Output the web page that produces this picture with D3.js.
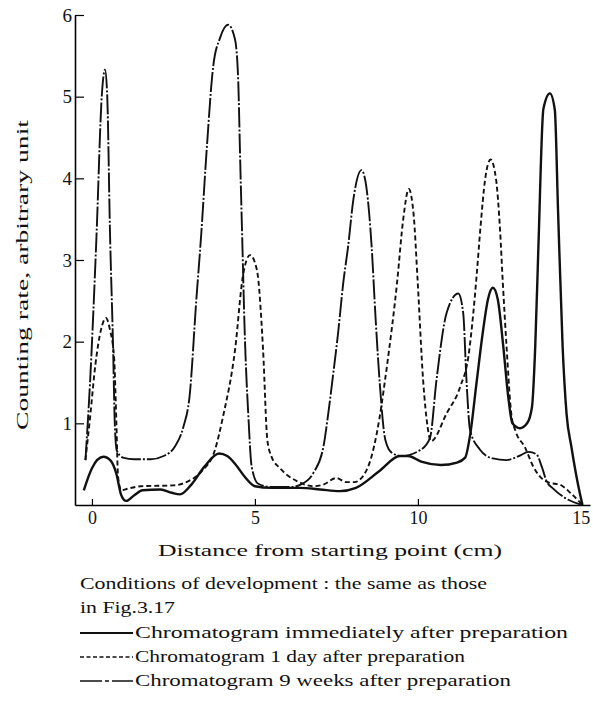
<!DOCTYPE html>
<html>
<head>
<meta charset="utf-8">
<script src="https://cdn.jsdelivr.net/npm/d3@7"></script>
<style>
  body { margin: 0; background: #fff; }
  svg text { font-family: "Liberation Serif", "DejaVu Serif", serif; fill: #111; }
</style>
</head>
<body>
<svg id="chart" width="593" height="702"></svg>
<script>
// tick values
const xTicks = [0, 5, 10, 15];
const yTicks = [1, 2, 3, 4, 5, 6];

// Chromatogram immediately after preparation (solid)
const immediate = [
  [-0.25, 0.18], [0.0, 0.45], [0.35, 0.59], [0.58, 0.54], [0.75, 0.38], [0.9, 0.12],
  [1.05, 0.05], [1.3, 0.12], [1.55, 0.18], [2.1, 0.19], [2.45, 0.15], [2.7, 0.13],
  [3.05, 0.25], [3.45, 0.47], [3.9, 0.63], [4.15, 0.6], [4.4, 0.5], [4.7, 0.34],
  [5.0, 0.23], [5.5, 0.21], [6.4, 0.21], [7.0, 0.19], [7.6, 0.17], [8.1, 0.21],
  [8.8, 0.41], [9.45, 0.6], [9.7, 0.6], [10.1, 0.53], [10.7, 0.49], [11.2, 0.52],
  [11.45, 0.58], [11.6, 0.85], [11.8, 1.5], [12.0, 2.14], [12.15, 2.52], [12.3, 2.66],
  [12.45, 2.52], [12.62, 1.94], [12.77, 1.33], [12.9, 1.0], [13.13, 0.94], [13.35, 1.0],
  [13.5, 1.2], [13.6, 1.94], [13.7, 3.2], [13.85, 4.85], [14.05, 5.04], [14.2, 4.84],
  [14.3, 3.6], [14.44, 1.94], [14.56, 1.12], [14.71, 0.71], [14.97, 0.14], [15.05, 0]
];

// Chromatogram 1 day after preparation (dashed)
const oneDay = [
  [-0.2, 0.55], [-0.05, 1.1], [0.1, 1.7], [0.28, 2.15], [0.43, 2.29], [0.55, 2.15],
  [0.68, 1.8], [0.75, 1.0], [0.8, 0.35], [0.9, 0.18], [1.1, 0.2], [1.5, 0.23],
  [2.5, 0.24], [2.95, 0.29], [3.36, 0.41], [3.77, 0.67], [4.02, 1.08], [4.39, 1.9],
  [4.63, 2.8], [4.85, 3.06], [5.06, 2.88], [5.25, 1.9], [5.38, 0.8], [5.5, 0.6],
  [5.77, 0.45], [6.3, 0.29], [6.8, 0.23], [7.1, 0.25], [7.5, 0.33], [7.8, 0.28],
  [8.05, 0.28], [8.43, 0.43], [8.74, 0.88], [9.05, 1.7], [9.36, 2.72], [9.55, 3.5],
  [9.72, 3.87], [9.87, 3.55], [9.99, 2.76], [10.16, 1.53], [10.3, 0.95], [10.4, 0.78],
  [10.88, 1.12], [11.3, 1.45], [11.55, 1.82], [11.7, 2.35], [11.8, 2.8], [11.92, 3.4],
  [12.06, 3.98], [12.23, 4.23], [12.4, 3.98], [12.52, 3.37], [12.6, 2.76], [12.72, 1.94],
  [12.87, 1.1], [13.0, 0.9], [13.28, 0.71], [13.54, 0.47], [13.74, 0.35], [14.05, 0.27],
  [14.35, 0.25], [14.7, 0.14], [15.05, 0]
];

// Chromatogram 9 weeks after preparation (dash-dot)
const nineWeeks = [
  [-0.2, 0.55], [-0.06, 1.49], [0.14, 3.3], [0.3, 5.0], [0.4, 5.33], [0.47, 5.0],
  [0.55, 3.4], [0.65, 1.9], [0.7, 1.0], [0.76, 0.67], [0.95, 0.58], [1.3, 0.56],
  [1.8, 0.56], [2.2, 0.6], [2.55, 0.72], [2.8, 0.95], [3.0, 1.35], [3.2, 2.5],
  [3.35, 3.3], [3.52, 4.35], [3.72, 5.37], [3.93, 5.72], [4.18, 5.88], [4.39, 5.7],
  [4.49, 5.17], [4.54, 4.35], [4.62, 3.12], [4.68, 2.2], [4.8, 1.08], [4.9, 0.47],
  [5.1, 0.26], [5.5, 0.22], [6.1, 0.22], [6.4, 0.25], [6.79, 0.39], [7.1, 0.71],
  [7.25, 1.12], [7.4, 1.6], [7.55, 2.1], [7.71, 2.72], [7.86, 3.17], [8.02, 3.74],
  [8.27, 4.1], [8.43, 3.86], [8.58, 3.17], [8.7, 2.3], [8.83, 1.49], [9.0, 0.8],
  [9.2, 0.64], [9.5, 0.6], [10.06, 0.67], [10.37, 0.82], [10.57, 1.53], [10.88, 2.35],
  [11.24, 2.59], [11.39, 2.35], [11.49, 1.53], [11.6, 0.92], [11.9, 0.68], [12.3, 0.57],
  [12.72, 0.55], [13.1, 0.6], [13.4, 0.65], [13.64, 0.62], [13.8, 0.47], [13.95, 0.29],
  [14.15, 0.2], [14.5, 0.09], [15.05, 0]
];

const series = [
  { name: 'Chromatogram immediately after preparation', data: immediate, dash: null, legendDash: null, width: 2.4 },
  { name: 'Chromatogram 1 day after preparation', data: oneDay, dash: '5,3', legendDash: '4,2.5', width: 1.9 },
  { name: 'Chromatogram 9 weeks after preparation', data: nineWeeks, dash: '20,2,2,2', legendDash: '22,3,4,3', width: 1.9 }
];

const svg = d3.select('#chart');

const x = d3.scaleLinear().domain([-0.52, 15.28]).range([75, 590]);
const y = d3.scaleLinear().domain([0, 6]).range([505, 15]);

// axes (ticks point inward)
svg.append('g')
  .attr('transform', 'translate(0,505)')
  .call(d3.axisBottom(x).tickValues(xTicks).tickSize(-6).tickSizeOuter(0).tickPadding(6))
  .call(g => g.select('.domain').attr('stroke-width', 1.6))
  .call(g => g.selectAll('.tick line').attr('stroke-width', 1.2))
  .call(g => g.selectAll('text').attr('font-size', 18).attr('font-family', '"Liberation Serif", serif'));

svg.append('g')
  .attr('transform', 'translate(75,0)')
  .call(d3.axisLeft(y).tickValues(yTicks).tickFormat(d3.format('d')).tickSize(-9).tickSizeOuter(0).tickPadding(3))
  .call(g => g.select('.domain').attr('stroke-width', 1.6))
  .call(g => g.selectAll('.tick line').attr('stroke-width', 1.2))
  .call(g => g.selectAll('text').attr('font-size', 19).attr('font-family', '"Liberation Serif", serif'));

// curves
const line = d3.line()
  .x(d => x(d[0]))
  .y(d => y(d[1]))
  .curve(d3.curveMonotoneX);

svg.append('g').selectAll('path.curve')
  .data(series)
  .join('path')
    .attr('class', 'curve')
    .attr('d', d => line(d.data))
    .attr('fill', 'none')
    .attr('stroke', '#111')
    .attr('stroke-width', d => d.width)
    .attr('stroke-dasharray', d => d.dash)
    .attr('stroke-linejoin', 'round');

// axis titles
svg.append('text')
  .attr('x', 330).attr('y', 556)
  .attr('text-anchor', 'middle')
  .attr('font-size', 17)
  .attr('textLength', 344).attr('lengthAdjust', 'spacingAndGlyphs')
  .text('Distance from starting point (cm)');

svg.append('text')
  .attr('transform', 'translate(28,275) rotate(-90)')
  .attr('text-anchor', 'middle')
  .attr('font-size', 17)
  .attr('textLength', 310).attr('lengthAdjust', 'spacingAndGlyphs')
  .text('Counting rate, arbitrary unit');

// notes
svg.append('text')
  .attr('x', 80).attr('y', 589)
  .attr('font-size', 17)
  .attr('textLength', 407).attr('lengthAdjust', 'spacingAndGlyphs')
  .text('Conditions of development : the same as those');

svg.append('text')
  .attr('x', 80).attr('y', 613)
  .attr('font-size', 17)
  .attr('textLength', 95).attr('lengthAdjust', 'spacingAndGlyphs')
  .text('in Fig.3.17');

// legend
const legendTop = 633;
const legendLen = [433, 330, 376];
const legend = svg.append('g').selectAll('g')
  .data(series)
  .join('g')
    .attr('transform', (d, i) => `translate(80,${legendTop + i * 24})`);

legend.append('line')
  .attr('x1', 0).attr('x2', 53)
  .attr('y1', 0).attr('y2', 0)
  .attr('stroke', '#111')
  .attr('stroke-width', d => d.width - 0.3)
  .attr('stroke-dasharray', d => d.legendDash);

legend.append('text')
  .attr('x', 55).attr('y', 5)
  .attr('font-size', 17)
  .attr('textLength', (d, i) => legendLen[i]).attr('lengthAdjust', 'spacingAndGlyphs')
  .text(d => d.name);
</script>
</body>
</html>
